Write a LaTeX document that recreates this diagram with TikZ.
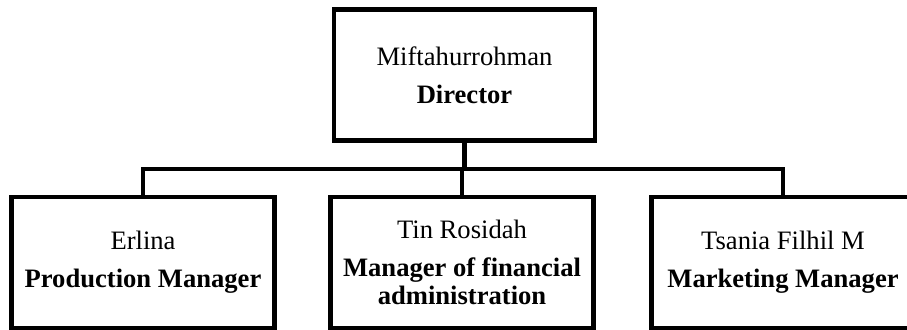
\documentclass[tikz,border=0pt]{standalone}
\usepackage{fontspec}
\setmainfont{Liberation Serif}
\begin{document}
\begin{tikzpicture}[x=1bp,y=-1bp,
  orgbox/.style={draw=black,line width=4.6bp,rectangle,minimum height=131bp,
    minimum width=263bp,inner sep=0pt,align=center,
    font=\fontsize{26.7}{28}\selectfont},
  link/.style={draw=black,line width=4.6bp}]
\useasboundingbox (0,0) rectangle (907,329);
\node[orgbox,minimum width=261bp,minimum height=131bp] (dir) at (464.5,75) {Miftahurrohman\\[10bp]\textbf{Director}};
\node[orgbox] (prod) at (143,262.5) {Erlina\\[10bp]\textbf{Production Manager}};
\node[orgbox] (fin) at (462,262.5) {Tin Rosidah\\[10bp]\textbf{Manager of financial}\\\textbf{administration}};
\node[orgbox] (mkt) at (783,262.5) {Tsania Filhil M\\[10bp]\textbf{Marketing Manager}};
\coordinate (j) at (463,169);
\path[link] (dir.south) -- (dir.south |- j);
\path[link] (prod.north) |- (j) -| (mkt.north);
\path[link] (fin.north |- j) -- (fin.north);
\end{tikzpicture}
\end{document}
